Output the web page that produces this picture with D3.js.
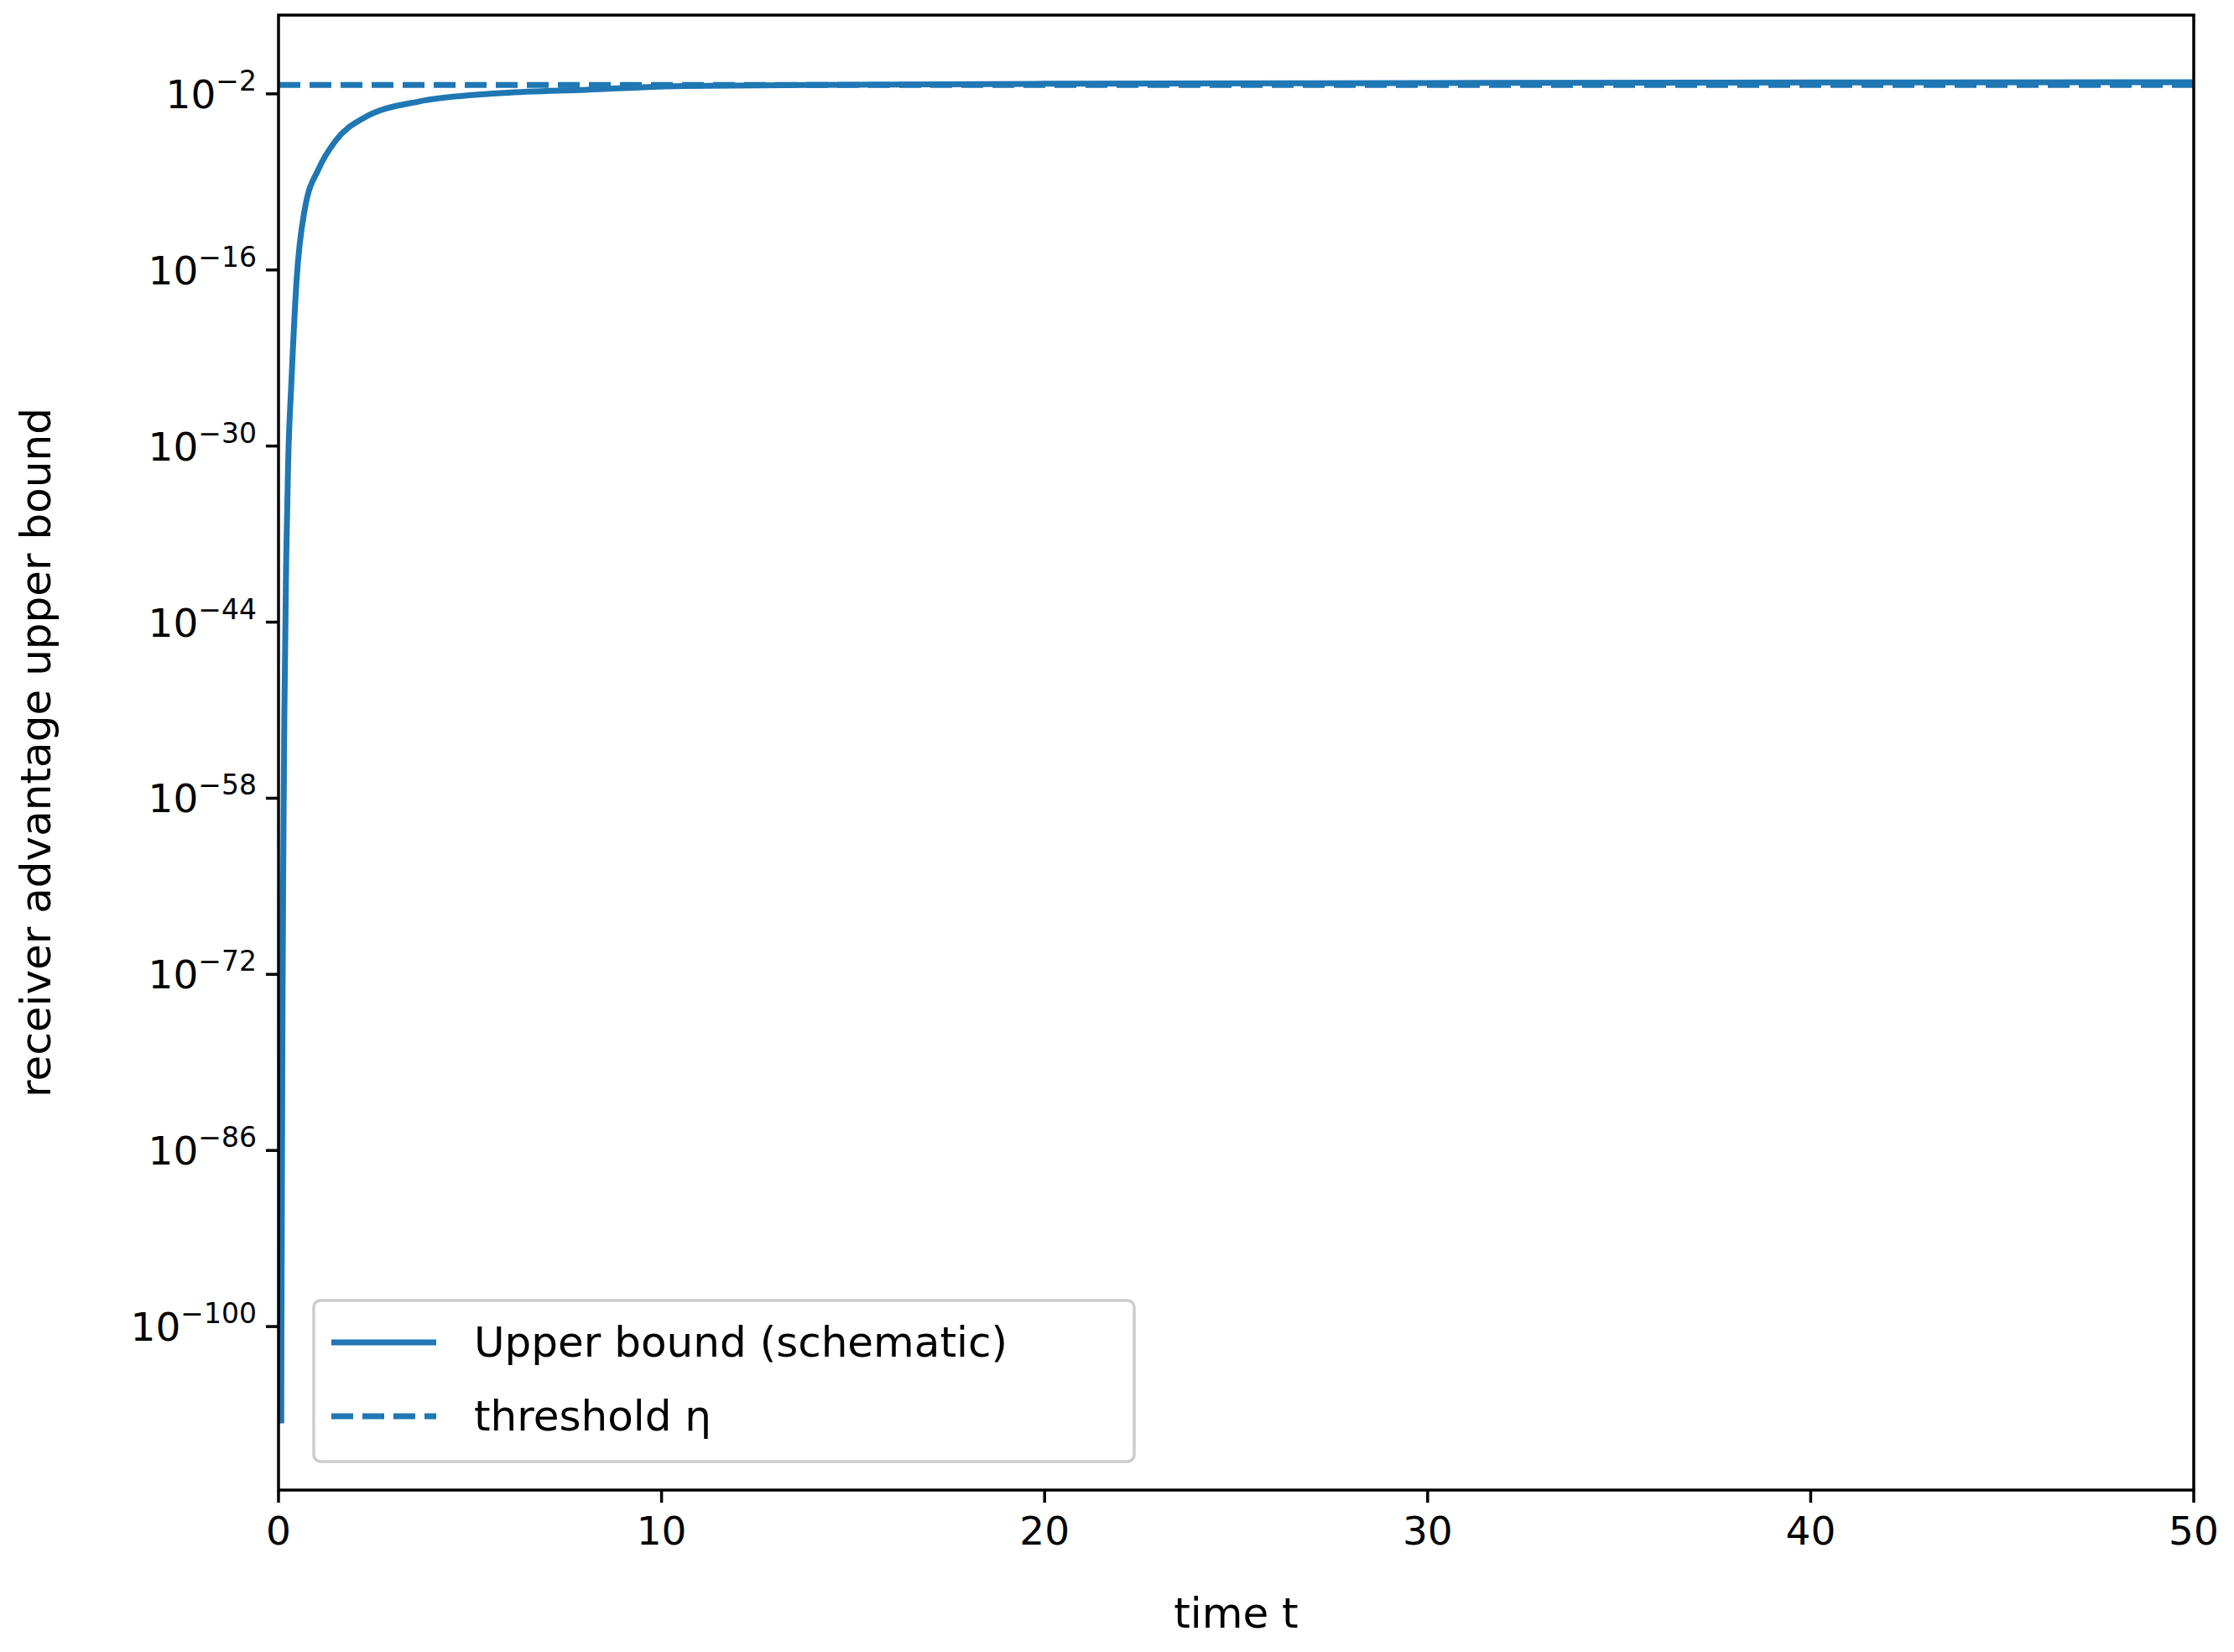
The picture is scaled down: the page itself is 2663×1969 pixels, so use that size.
<!DOCTYPE html><html><head><meta charset="utf-8">
<script src="https://cdn.jsdelivr.net/npm/d3@7"></script>
<style>body{margin:0;background:#fff}</style></head><body>
<svg id="c" width="2663" height="1969"></svg>
<script>
const tVals=[0.072,0.08,0.1,0.12,0.15,0.2,0.25,0.34,0.47,0.69,1.05,1.49,2.21,3.68,5.87,8.06,10.6,15,20,30,40,50];
const logY=[-107.7,-97,-77.7,-64.9,-52,-39.2,-31.5,-24.7,-16.9,-11.1,-7.96,-5.73,-3.94,-2.6,-1.93,-1.67,-1.38,-1.27,-1.2,-1.14,-1.1,-1.07];
const thresholdLog=-1.3;
const xTicks=[0,10,20,30,40,50];
const yTickExps=[-2,-16,-30,-44,-58,-72,-86,-100];
const L=332,R=2615,T=18,B=1776,col="#1f77b4",F="DejaVu Sans, sans-serif";
const svg=d3.select("#c");
const x=d3.scaleLinear().domain([0,50]).range([L,R]);
const y=d3.scaleLinear().domain([-113.0,4.26]).range([B,T]);
const g=svg.append("g");
g.append("line").attr("x1",L).attr("x2",R).attr("y1",y(thresholdLog)).attr("y2",y(thresholdLog))
 .attr("stroke",col).attr("stroke-width",7).attr("stroke-dasharray","26,11");
const data=tVals.map((t,i)=>[t,logY[i]]);
g.append("path").datum(data).attr("fill","none").attr("stroke",col).attr("stroke-width",7)
 .attr("d",d3.line().x(d=>x(d[0])).y(d=>y(d[1])).curve(d3.curveMonotoneX));
svg.append("rect").attr("x",L).attr("y",T).attr("width",R-L).attr("height",B-T).attr("fill","none").attr("stroke","#000").attr("stroke-width",3.5);
xTicks.forEach(v=>{
 svg.append("line").attr("x1",x(v)).attr("x2",x(v)).attr("y1",B).attr("y2",B+15).attr("stroke","#000").attr("stroke-width",3.5);
 svg.append("text").attr("x",x(v)).attr("y",B+65).attr("text-anchor","middle").attr("font-family",F).attr("font-size",47).text(v);
});
yTickExps.forEach(e=>{
 const yy=y(e);
 svg.append("line").attr("x1",L-15).attr("x2",L).attr("y1",yy).attr("y2",yy).attr("stroke","#000").attr("stroke-width",3.5);
 const t=svg.append("text").attr("x",L-26).attr("y",yy+17).attr("text-anchor","end").attr("font-family",F).attr("font-size",47);
 t.append("tspan").text("10");
 t.append("tspan").attr("dy",-21).attr("font-size",33).text("−"+Math.abs(e));
});
svg.append("text").attr("x",(L+R)/2).attr("y",1940).attr("text-anchor","middle").attr("font-family",F).attr("font-size",50).text("time t");
svg.append("text").attr("transform",`translate(60,${(T+B)/2}) rotate(-90)`).attr("text-anchor","middle").attr("font-family",F).attr("font-size",50).text("receiver advantage upper bound");
const lg=svg.append("g");
lg.append("rect").attr("x",374).attr("y",1550).attr("width",978).attr("height",192).attr("rx",8).attr("fill","#fff").attr("fill-opacity",0.8).attr("stroke","#ccc").attr("stroke-width",3.5);
lg.append("line").attr("x1",395).attr("x2",520).attr("y1",1600).attr("y2",1600).attr("stroke",col).attr("stroke-width",7);
lg.append("line").attr("x1",395).attr("x2",520).attr("y1",1688).attr("y2",1688).attr("stroke",col).attr("stroke-width",7).attr("stroke-dasharray","26,11");
lg.append("text").attr("x",565).attr("y",1617).attr("font-family",F).attr("font-size",50).text("Upper bound (schematic)");
lg.append("text").attr("x",565).attr("y",1705).attr("font-family",F).attr("font-size",50).text("threshold η");
</script></body></html>
